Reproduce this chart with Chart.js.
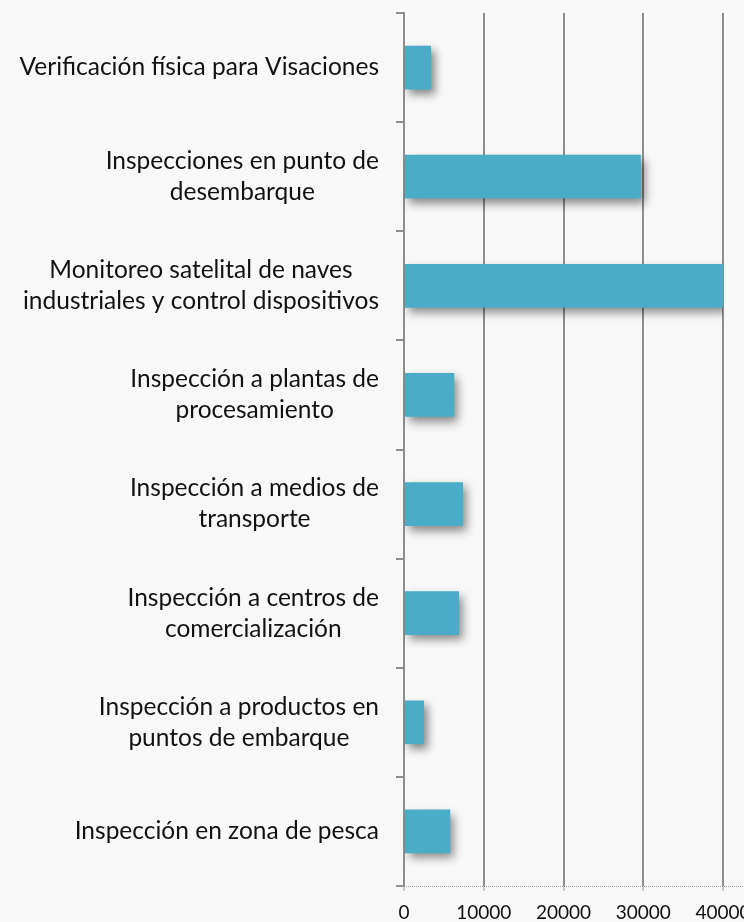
<!DOCTYPE html>
<html>
<head>
<meta charset="utf-8">
<script src="https://cdn.jsdelivr.net/npm/chart.js@4.4.1/dist/chart.umd.min.js"></script>
<style>
  html, body { margin: 0; padding: 0; background: #f8f8f8; }
  #wrap { width: 744px; height: 922px; position: relative; }
</style>
</head>
<body>
<div id="wrap"><canvas id="c" width="744" height="922"></canvas></div>
<script>
const categories = [
  ['Verificación física para Visaciones'],
  ['Inspecciones en punto de', 'desembarque'],
  ['Monitoreo satelital de naves', 'industriales y control dispositivos'],
  ['Inspección a plantas de', 'procesamiento'],
  ['Inspección a medios de', 'transporte'],
  ['Inspección a centros de', 'comercialización'],
  ['Inspección a productos en', 'puntos de embarque'],
  ['Inspección en zona de pesca']
];
const values = [3400, 29700, 40000, 6300, 7400, 6900, 2500, 5800];
const xTicks = [0, 10000, 20000, 30000, 40000];

const FONT = 'Lato';

const bgPlugin = {
  id: 'bg',
  beforeDraw(chart) {
    const ctx = chart.ctx;
    ctx.save();
    ctx.fillStyle = '#f8f8f8';
    ctx.fillRect(0, 0, chart.width, chart.height);
    ctx.restore();
  }
};

const shadowPlugin = {
  id: 'shadow',
  beforeDatasetsDraw(chart) {
    const ctx = chart.ctx;
    ctx.save();
    ctx.shadowColor = 'rgba(0,0,0,0.45)';
    ctx.shadowBlur = 9;
    ctx.shadowOffsetX = 4;
    ctx.shadowOffsetY = 5;
  },
  afterDatasetsDraw(chart) {
    chart.ctx.restore();
  }
};

const axisPlugin = {
  id: 'dottedAxis',
  afterDraw(chart) {
    const ctx = chart.ctx;
    const xs = chart.scales.x;
    const y = Math.round(xs.top) + 0.5;
    ctx.save();
    ctx.strokeStyle = '#9a9a9a';
    ctx.lineWidth = 1;
    ctx.setLineDash([1, 1]);
    ctx.beginPath();
    ctx.moveTo(xs.left - 8, y);
    ctx.lineTo(chart.width, y);
    ctx.stroke();
    ctx.restore();
  }
};

const labelPlugin = {
  id: 'ylabels',
  afterDraw(chart) {
    const ctx = chart.ctx;
    const ys = chart.scales.y;
    const rightEdge = ys.right - 25;
    const lh = 31;
    ctx.save();
    ctx.font = '24.5px ' + FONT;
    ctx.fillStyle = '#111';
    ctx.textAlign = 'center';
    ctx.textBaseline = 'middle';
    categories.forEach((lines, i) => {
      const y = ys.getPixelForTick(i);
      const w = Math.max(...lines.map(l => ctx.measureText(l).width));
      const cx = rightEdge - w / 2;
      lines.forEach((l, j) => {
        ctx.fillText(l, cx, y + (j - (lines.length - 1) / 2) * lh);
      });
    });
    ctx.restore();
  }
};

new Chart(document.getElementById('c'), {
  type: 'bar',
  data: {
    labels: categories,
    datasets: [{
      data: values,
      backgroundColor: '#4aacc6',
      borderWidth: 0,
      categoryPercentage: 1,
      barPercentage: 0.4
    }]
  },
  options: {
    indexAxis: 'y',
    responsive: false,
    animation: false,
    layout: { padding: { top: 13, right: 21, left: 0, bottom: 0 } },
    plugins: { legend: { display: false }, tooltip: { enabled: false } },
    scales: {
      x: {
        min: 0,
        max: 40000,
        afterBuildTicks(scale) { scale.ticks = xTicks.map(v => ({ value: v })); },
        afterFit(scale) { scale.paddingLeft = 0; scale.paddingRight = 0; scale.height = 36; },
        grid: { color: '#8e8e8e', lineWidth: 2, drawTicks: true, tickLength: 5, tickColor: '#c8c8c8' },
        border: { display: false },
        ticks: {
          font: { family: FONT, size: 19 }, color: '#111', padding: 10, maxRotation: 0,
          callback: (v) => String(v)
        }
      },
      y: {
        afterFit(scale) { scale.width = 404; },
        grid: { drawOnChartArea: false, drawTicks: true, tickLength: 8, color: '#8e8e8e', lineWidth: 2, offset: true },
        border: { display: true, color: '#8e8e8e', width: 2 },
        ticks: { display: false }
      }
    }
  },
  plugins: [bgPlugin, shadowPlugin, axisPlugin, labelPlugin]
});
</script>
</body>
</html>
